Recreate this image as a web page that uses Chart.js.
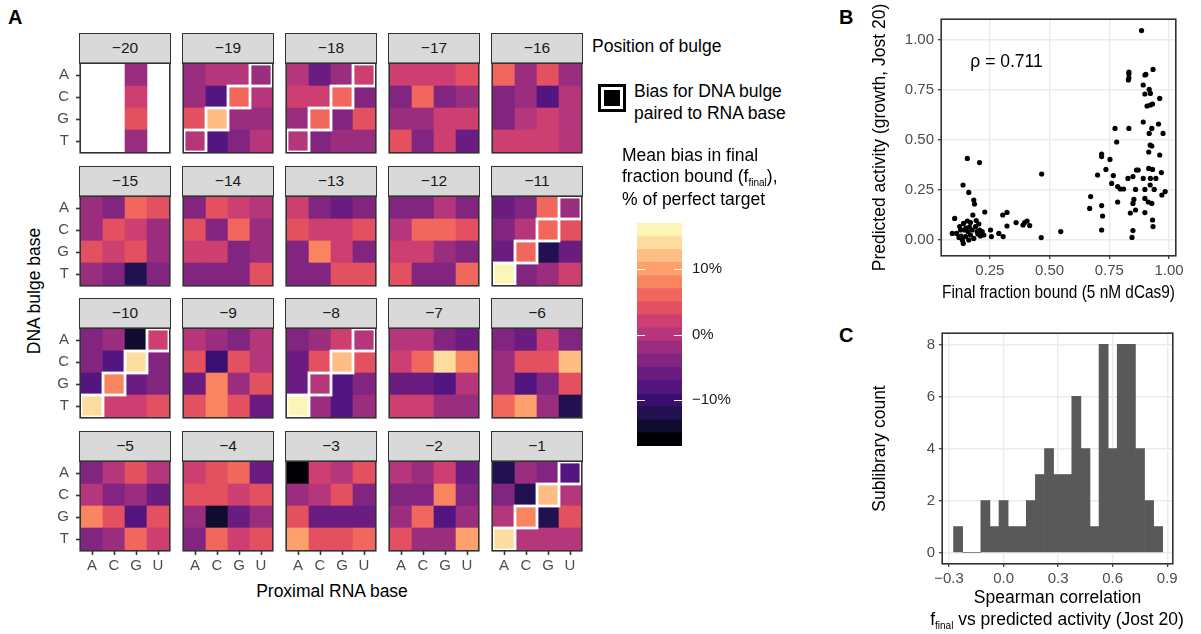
<!DOCTYPE html>
<html>
<head>
<meta charset="utf-8">
<script src="https://cdn.jsdelivr.net/npm/chart.js@4.4.1/dist/chart.umd.min.js"></script>
<style>
  body { margin: 0; background: #fff; font-family: "Liberation Sans", Arial, sans-serif; }
  #fig { position: relative; width: 1201px; height: 634px; overflow: hidden; background: #fff; }
  canvas { position: absolute; }
  .lbl { position: absolute; white-space: nowrap; color: #000; line-height: 1; }
  .lbl sub { font-size: 10px; vertical-align: -4px; }
  .strip { position: absolute; box-sizing: border-box; border: 1.6px solid #333; background: #D9D9D9;
           text-align: center; font-size: 15.5px; color: #1A1A1A; line-height: 28px; }
</style>
</head>
<body>
<div id="fig"></div>
<script>
// ---- data ----
const positions = [-20, -19, -18, -17, -16, -15, -14, -13, -12, -11, -10, -9, -8, -7, -6, -5, -4, -3, -2, -1];
const dnaBases = ["A", "C", "G", "T"];
const rnaBases = ["A", "C", "G", "U"];
const pairedPositions = [-19, -18, -11, -10, -8, -1];

// mean bias (% of perfect target), per position: rows = DNA base A,C,G,T; cols = RNA base A,C,G,U
const biasPct = [
  [[null, null, -2, null], [null, null, 2, null], [null, null, 4, null], [null, null, -2, null]],
  [[-2, 0, 0, -2], [-2, -8, 6, 0], [4, 12, -2, -2], [0, -8, -4, 0]],
  [[0, -6, -2, 2], [2, 2, 6, -4], [-2, 6, -4, 4], [0, -4, -2, -2]],
  [[2, 2, 2, 4], [-4, 6, -4, -2], [-2, -2, 2, 2], [4, -4, 2, -6]],
  [[6, -2, 4, -2], [-4, -2, -8, 0], [-4, 0, 2, 0], [2, 2, 2, 0]],
  [[-2, -4, 6, 4], [-2, 4, 2, -2], [4, 2, 4, -2], [-2, -4, -12, -4]],
  [[-4, 4, 2, 0], [4, -4, 6, -2], [2, 2, -4, -2], [-4, -4, -4, 4]],
  [[2, -4, -6, -4], [4, 2, 2, 4], [-4, 8, 2, -4], [-4, -4, 4, 4]],
  [[-4, -4, 0, -4], [0, 6, 6, 4], [2, 2, -2, -4], [4, -4, -4, 6]],
  [[-6, -4, 6, -2], [-4, 0, 6, 4], [-6, 6, -12, -6], [16, -4, -2, 2]],
  [[-4, -2, -14, 2], [-4, -8, 14, -4], [-8, 8, -6, -4], [14, 2, 2, 4]],
  [[0, -2, -4, 0], [4, -10, 4, 0], [-6, 8, -2, 4], [4, 8, 4, -6]],
  [[-4, -2, 2, 0], [-6, 4, 12, 4], [-6, 0, -8, -4], [16, -2, -8, -2]],
  [[0, 0, -4, -6], [2, 6, 14, 8], [-6, -6, -8, 0], [2, 2, -2, -2]],
  [[-4, -6, 2, -4], [-2, 4, 4, 12], [-2, -8, -4, 4], [6, 10, -2, -12]],
  [[-4, 0, 4, 0], [0, -4, -2, -6], [8, 4, -8, 4], [-4, -2, 6, 2]],
  [[2, 4, 6, -6], [4, 4, 2, 4], [-2, -14, -6, -2], [-4, 6, 2, 4]],
  [[-16, 2, 0, 4], [-2, 0, 4, -4], [4, -6, -6, -6], [10, 4, 4, 6]],
  [[0, -2, 2, -6], [-4, -4, 8, -4], [-2, 6, -8, -2], [4, -2, -2, 10]],
  [[-12, -2, -4, -8], [-4, -12, 12, 0], [0, 8, -12, 4], [14, 0, 0, 0]]
];
const colorbarLevels = [-16, -14, -12, -10, -8, -6, -4, -2, 0, 2, 4, 6, 8, 10, 12, 14, 16];
const colorbarTicks = [-10, 0, 10];

// panel B
const boundX = [
  0.885, 0.899, 0.832, 0.832, 0.832, 0.830, 0.903, 0.933, 0.892, 0.917, 0.922, 0.899, 0.961, 0.908, 0.922, 0.931,
  0.892, 0.928, 0.956, 0.774, 0.832, 0.975, 0.917, 0.781, 0.921, 0.928, 0.915, 0.961, 0.718, 0.718, 0.753, 0.736,
  0.701, 0.767, 0.760, 0.785, 0.796, 0.810, 0.828, 0.849, 0.864, 0.871, 0.892, 0.915, 0.931, 0.922, 0.945, 0.968,
  0.860, 0.899, 0.921, 0.938, 0.984, 0.970, 0.672, 0.785, 0.899, 0.913, 0.928, 0.849, 0.853, 0.668, 0.718, 0.722,
  0.860, 0.899, 0.838, 0.931, 0.933, 0.718, 0.849, 0.845,
  0.138, 0.156, 0.207, 0.162, 0.183, 0.186, 0.103, 0.179, 0.229, 0.140, 0.156, 0.169, 0.128, 0.111, 0.093, 0.121,
  0.135, 0.139, 0.149, 0.158, 0.169, 0.176, 0.190, 0.197, 0.204, 0.207, 0.211, 0.218, 0.225, 0.183, 0.162, 0.143,
  0.124, 0.193, 0.150, 0.165, 0.200, 0.130,
  0.253, 0.257, 0.288, 0.304, 0.322, 0.322, 0.306, 0.360, 0.396, 0.406, 0.417, 0.389, 0.467, 0.465, 0.547
];
const activityY = [
  1.047, 0.825, 0.840, 0.830, 0.810, 0.800, 0.828, 0.853, 0.775, 0.753, 0.733, 0.730, 0.708, 0.670, 0.675, 0.680,
  0.590, 0.558, 0.580, 0.558, 0.558, 0.533, 0.533, 0.490, 0.475, 0.470, 0.440, 0.425, 0.430, 0.417, 0.403, 0.353,
  0.325, 0.322, 0.283, 0.267, 0.255, 0.255, 0.308, 0.317, 0.350, 0.350, 0.308, 0.358, 0.353, 0.308, 0.308, 0.337,
  0.253, 0.253, 0.275, 0.253, 0.242, 0.225, 0.217, 0.190, 0.208, 0.190, 0.183, 0.183, 0.203, 0.158, 0.172, 0.120,
  0.150, 0.137, 0.135, 0.100, 0.067, 0.050, 0.047, 0.013,
  0.275, 0.408, 0.387, 0.238, 0.200, 0.180, 0.108, 0.125, 0.140, 0.083, 0.095, 0.087, 0.050, 0.033, 0.033, 0.013,
  0.000, -0.017, 0.017, 0.042, 0.025, 0.050, 0.067, 0.042, 0.080, 0.050, 0.020, 0.042, 0.025, 0.008, 0.000, 0.050,
  0.067, 0.097, 0.060, 0.065, 0.030, 0.020,
  0.050, 0.017, 0.033, 0.125, 0.138, 0.070, 0.017, 0.087, 0.087, 0.095, 0.072, 0.075, 0.330, 0.012, 0.042
];
const boundTicks = [0.25, 0.5, 0.75, 1.0];
const activityTicks = [0, 0.25, 0.5, 0.75, 1.0];
const rhoText = "ρ = 0.711";
const rhoAt = [0.32, 0.887];

// panel C
const corrBins = [-0.25, -0.2, -0.15, -0.1, -0.05, 0, 0.05, 0.1, 0.15, 0.2, 0.25, 0.3, 0.35, 0.4, 0.45, 0.5, 0.55, 0.6, 0.65, 0.7, 0.75, 0.8, 0.85];
const binCounts = [1, 0, 0, 2, 1, 2, 1, 1, 2, 3, 4, 3, 3, 6, 4, 1, 8, 4, 8, 8, 4, 2, 1];
const corrTicks = [-0.3, 0, 0.3, 0.6, 0.9];
const countTicks = [0, 2, 4, 6, 8];

// ---- styling ----
const magma = ["#000004", "#0F0C2F", "#221150", "#3B0F70", "#531580", "#6A1C81", "#822581", "#9B2D7F", "#B5367A",
  "#CE3F71", "#E3505F", "#F1675E", "#F98560", "#FCA06C", "#FDBD84", "#FDDD9F", "#FCF5B8"];
const pairOf = { A: "U", C: "G", G: "C", T: "A" };
const FONT = '"Liberation Sans", Arial, sans-serif';
Chart.defaults.font.family = FONT;
Chart.defaults.animation = false;

const minus = (s) => String(s).replace("-", "\u2212");
const colorFor = (v) => {
  if (v === null) return "rgba(0,0,0,0)";
  const i = Math.max(0, Math.min(16, Math.round((v + 16) / 2)));
  return magma[i];
};

const fig = document.getElementById("fig");
function addText(html, x, y, o = {}) {
  const d = document.createElement("div");
  d.className = "lbl";
  d.innerHTML = html;
  d.style.left = x + "px";
  d.style.top = y + "px";
  d.style.fontSize = (o.size || 17.5) + "px";
  if (o.bold) d.style.fontWeight = "bold";
  if (o.color) d.style.color = o.color;
  const tx = o.align === "center" ? "-50%" : "0";
  d.style.transform = `translate(${tx}, -50%)` + (o.rotate ? " rotate(-90deg)" : "");
  fig.appendChild(d);
  return d;
}
function addCanvas(left, top, w, h) {
  const c = document.createElement("canvas");
  c.width = w; c.height = h;
  c.style.left = left + "px"; c.style.top = top + "px";
  c.style.width = w + "px"; c.style.height = h + "px";
  fig.appendChild(c);
  return c;
}

const frame = {
  id: "frame",
  afterDraw(chart) {
    const { ctx, chartArea: a } = chart;
    ctx.save();
    ctx.strokeStyle = "#333";
    ctx.lineWidth = 1.6;
    ctx.strokeRect(a.left - 0.8, a.top - 0.8, a.right - a.left + 1.6, a.bottom - a.top + 1.6);
    ctx.restore();
  }
};

// white outline on the cells where the DNA bulge pairs with the RNA base
const pairFrame = {
  id: "pairFrame",
  afterDatasetsDraw(chart) {
    if (!chart.$paired) return;
    const { ctx, chartArea: a } = chart;
    ctx.save();
    ctx.beginPath();
    ctx.rect(a.left, a.top, a.right - a.left, a.bottom - a.top);
    ctx.clip();
    ctx.strokeStyle = "#fff";
    ctx.lineWidth = 2.8;
    chart.data.datasets.forEach((ds, di) => {
      const meta = chart.getDatasetMeta(di);
      rnaBases.forEach((rb, c) => {
        if (pairOf[ds.label] !== rb) return;
        const el = meta.data[c];
        const { x, y, base, width } = el.getProps(["x", "y", "base", "width"], true);
        ctx.strokeRect(x - width / 2, Math.min(y, base), width, Math.abs(base - y));
      });
    });
    ctx.restore();
  }
};

// ---- panel A: heatmap facets ----
const CELL = 22, AREA = CELL * 4;
const YAXIS_W = 28, XAXIS_H = 30, PAD = 18, SIDE = 10;
positions.forEach((pos, k) => {
  const col = k % 5, row = Math.floor(k / 5);
  const areaLeft = 81 + col * 103;
  const stripTop = 33 + row * 132.7;
  const areaTop = stripTop + 31;
  const showY = col === 0, showX = row === 3;

  const strip = document.createElement("div");
  strip.className = "strip";
  strip.style.left = (areaLeft - 2) + "px";
  strip.style.top = stripTop + "px";
  strip.style.width = "92px";
  strip.style.height = "31px";
  strip.textContent = minus(pos);
  fig.appendChild(strip);

  const padL = showY ? YAXIS_W : SIDE, padB = showX ? XAXIS_H : PAD;
  const cv = addCanvas(areaLeft - padL, areaTop - PAD, padL + AREA + SIDE, PAD + AREA + padB);
  const vals = biasPct[k];

  const datasets = [3, 2, 1, 0].map((r) => ({
    label: dnaBases[r],
    data: rnaBases.map(() => 1),
    backgroundColor: vals[r].map(colorFor),
    borderWidth: 0,
    barPercentage: 1,
    categoryPercentage: 1
  }));

  const xScale = {
    stacked: true,
    display: showX,
    ticks: { color: "#4D4D4D", font: { size: 15 }, padding: 2, maxRotation: 0, autoSkip: false },
    grid: { offset: false, drawOnChartArea: false, drawTicks: true, tickLength: 5, tickColor: "#333", tickWidth: 1.6 },
    border: { display: false }
  };
  if (showX) xScale.afterFit = (s) => { s.height = XAXIS_H; };
  const yScale = {
    stacked: true,
    display: showY,
    min: 0, max: 4,
    afterBuildTicks: (s) => { s.ticks = [0.5, 1.5, 2.5, 3.5].map((v) => ({ value: v })); },
    ticks: { color: "#4D4D4D", font: { size: 15 }, padding: 7, autoSkip: false, callback: (v) => dnaBases[3 - Math.floor(v)] },
    grid: { drawOnChartArea: false, drawTicks: true, tickLength: 5, tickColor: "#333", tickWidth: 1.6 },
    border: { display: false }
  };
  if (showY) yScale.afterFit = (s) => { s.width = YAXIS_W; };

  const ch = new Chart(cv, {
    type: "bar",
    data: { labels: rnaBases, datasets },
    options: {
      responsive: false,
      layout: { padding: { top: PAD, right: SIDE, bottom: showX ? 0 : PAD, left: showY ? 0 : SIDE } },
      plugins: { legend: { display: false }, tooltip: { enabled: false } },
      scales: { x: xScale, y: yScale }
    },
    plugins: [pairFrame, frame]
  });
  ch.$paired = pairedPositions.includes(pos);
  ch.draw();
});

addText("A", 8, 17, { size: 20, bold: true });
addText("DNA bulge base", 35, 291, { align: "center", rotate: true });
addText("Proximal RNA base", 332, 592, { align: "center" });

// ---- legend ----
addText("Position of bulge", 592, 47);
const key = document.createElement("div");
key.style.cssText = "position:absolute;left:598px;top:84px;width:28px;height:28px;box-sizing:border-box;border:3px solid #000;padding:3px;background:#fff";
key.innerHTML = '<div style="width:16px;height:16px;background:#000"></div>';
fig.appendChild(key);
addText("Bias for DNA bulge", 634, 92);
addText("paired to RNA base", 634, 114);
addText("Mean bias in final", 622, 156);
addText("fraction bound (f<sub>final</sub>),", 622, 178);
addText("% of perfect target", 622, 200);

const cbCanvas = addCanvas(637, 203, 105, 263);
new Chart(cbCanvas, {
  type: "bar",
  data: {
    labels: [""],
    datasets: colorbarLevels.map((lv) => ({
      data: [[lv - 1, lv + 1]],
      backgroundColor: colorFor(lv),
      barPercentage: 1,
      categoryPercentage: 1,
      grouped: false
    }))
  },
  options: {
    responsive: false,
    layout: { padding: { top: 20, bottom: 20, left: 0, right: 0 } },
    plugins: { legend: { display: false }, tooltip: { enabled: false } },
    scales: {
      x: { display: false },
      y: {
        position: "right",
        min: -17, max: 17,
        afterFit: (s) => { s.width = 60; },
        afterBuildTicks: (s) => { s.ticks = colorbarTicks.map((v) => ({ value: v })); },
        ticks: { color: "#1A1A1A", font: { size: 15 }, padding: 10, callback: (v) => minus(v + "%") },
        grid: { display: false, drawTicks: false },
        border: { display: false }
      }
    }
  },
  plugins: [{
    id: "cbTicks",
    afterDatasetsDraw(chart) {
      const { ctx, chartArea: a, scales } = chart;
      ctx.save();
      ctx.strokeStyle = "#fff";
      ctx.lineWidth = 1;
      colorbarTicks.forEach((v) => {
        const y = Math.round(scales.y.getPixelForValue(v)) + 0.5;
        ctx.beginPath();
        ctx.moveTo(a.left, y); ctx.lineTo(a.left + 8, y);
        ctx.moveTo(a.right - 8, y); ctx.lineTo(a.right, y);
        ctx.stroke();
      });
      ctx.restore();
    }
  }]
});

// ---- panel B: scatter ----
const tickFont = { size: 15 };
const axisGrid = { color: "#EBEBEB", lineWidth: 1.4, tickColor: "#333", tickLength: 4, tickWidth: 1.2 };
addText("B", 839, 17, { size: 20, bold: true });
const cvB = addCanvas(830, 0, 371, 310);
new Chart(cvB, {
  type: "scatter",
  data: {
    datasets: [{
      data: boundX.map((x, i) => ({ x, y: activityY[i] })),
      pointRadius: 2.6,
      pointBackgroundColor: "#000",
      pointBorderWidth: 0
    }]
  },
  options: {
    responsive: false,
    layout: { padding: { top: 20, right: 26, left: 0, bottom: 0 } },
    plugins: { legend: { display: false }, tooltip: { enabled: false } },
    scales: {
      x: {
        type: "linear", min: 0.05, max: 1.025,
        afterFit: (s) => { s.height = 55; },
        afterBuildTicks: (s) => { s.ticks = boundTicks.map((v) => ({ value: v })); },
        ticks: { color: "#4D4D4D", font: tickFont, padding: 3, maxRotation: 0, autoSkip: false, callback: (v) => v.toFixed(2) },
        grid: axisGrid,
        border: { display: false },
        title: { display: true, text: "Final fraction bound (5 nM dCas9)", color: "#000", font: { size: 17.5 }, padding: { top: 0, bottom: 6.5 } }
      },
      y: {
        type: "linear", min: -0.075, max: 1.1,
        afterFit: (s) => { s.width = 112; },
        afterBuildTicks: (s) => { s.ticks = activityTicks.map((v) => ({ value: v })); },
        ticks: { color: "#4D4D4D", font: tickFont, padding: 4, autoSkip: false, callback: (v) => v.toFixed(2) },
        grid: axisGrid,
        border: { display: false },
        title: { display: true, text: "Predicted activity (growth, Jost 20)", color: "#000", font: { size: 17.5 }, padding: { top: 39.5, bottom: 0 } }
      }
    }
  },
  plugins: [frame, {
    id: "rho",
    afterDatasetsDraw(chart) {
      const { ctx, scales } = chart;
      ctx.save();
      ctx.fillStyle = "#000";
      ctx.font = "17.5px " + FONT;
      ctx.textAlign = "center";
      ctx.textBaseline = "middle";
      ctx.fillText(rhoText, scales.x.getPixelForValue(rhoAt[0]), scales.y.getPixelForValue(rhoAt[1]));
      ctx.restore();
    }
  }]
});

// ---- panel C: histogram ----
addText("C", 839, 335, { size: 20, bold: true });
const cvC = addCanvas(830, 300, 371, 334);
new Chart(cvC, {
  type: "bar",
  data: {
    datasets: [{
      data: corrBins.map((c, i) => ({ x: c, y: binCounts[i] })),
      backgroundColor: "#595959",
      barPercentage: 1,
      categoryPercentage: 1
    }]
  },
  options: {
    responsive: false,
    layout: { padding: { top: 34, right: 29, left: 0, bottom: 0 } },
    plugins: { legend: { display: false }, tooltip: { enabled: false } },
    scales: {
      x: {
        type: "linear", min: -0.333, max: 0.926, offset: false,
        afterFit: (s) => { s.height = 71; },
        afterBuildTicks: (s) => { s.ticks = corrTicks.map((v) => ({ value: v })); },
        ticks: { color: "#4D4D4D", font: tickFont, padding: 3, maxRotation: 0, autoSkip: false, callback: (v) => minus(v.toFixed(1)) },
        grid: Object.assign({}, axisGrid, { offset: false }),
        border: { display: false },
        title: { display: true, text: "Spearman correlation", color: "#000", font: { size: 17.5 }, padding: { top: 0, bottom: 25.5 } }
      },
      y: {
        type: "linear", min: -0.4, max: 8.4,
        afterFit: (s) => { s.width = 113; },
        afterBuildTicks: (s) => { s.ticks = countTicks.map((v) => ({ value: v })); },
        ticks: { color: "#4D4D4D", font: tickFont, padding: 4, autoSkip: false },
        grid: axisGrid,
        border: { display: false },
        title: { display: true, text: "Sublibrary count", color: "#000", font: { size: 17.5 }, padding: { top: 39.5, bottom: 0 } }
      }
    }
  },
  plugins: [frame]
});
addText("f<sub>final</sub> vs predicted activity (Jost 20)", 1057, 621, { align: "center" });
</script>
</body>
</html>
